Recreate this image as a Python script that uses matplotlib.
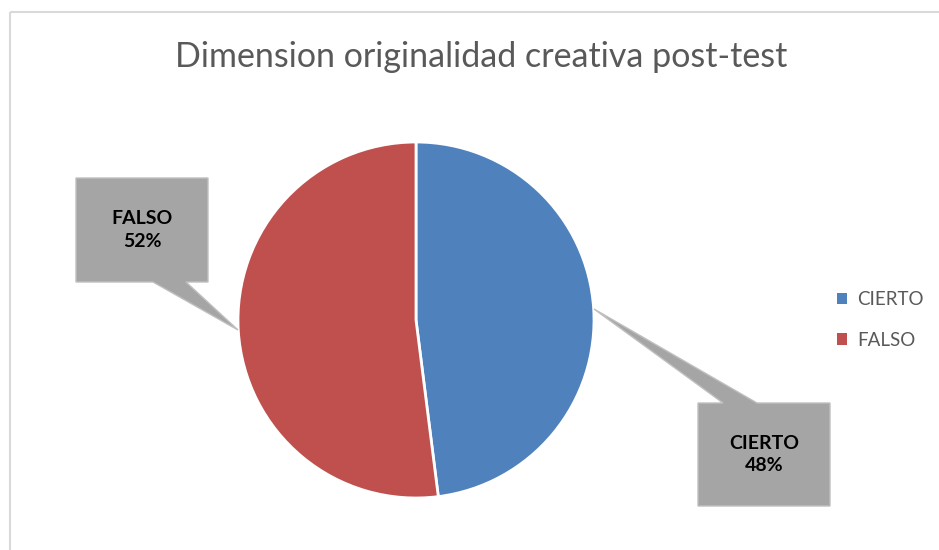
import numpy as np
import matplotlib
matplotlib.use("Agg")
import matplotlib.pyplot as plt
from matplotlib.patches import Polygon, Rectangle, Patch

# data
labels = ["CIERTO", "FALSO"]
values = [48, 52]
colors = ["#4F81BD", "#C0504D"]
title = "Dimension originalidad creativa post-test"

W, H = 939, 550
plt.rcParams['font.family'] = ['Lato', 'DejaVu Sans']

fig = plt.figure(figsize=(W / 100, H / 100), dpi=100)
ax = fig.add_axes([0, 0, 1, 1])

# chart border
ax.add_patch(Rectangle((9.5, 11.5), W + 20, H + 20, fill=False,
                       edgecolor='#D9D9D9', linewidth=1.5))

cx, cy, r = 416, 320, 178
# y axis is inverted (pixel coords), so counterclockwise from -90 reads clockwise from top
wedges, _ = ax.pie(values, colors=colors, startangle=-90, counterclock=True,
                   center=(cx, cy), radius=r, frame=True,
                   wedgeprops=dict(edgecolor='white', linewidth=2))
ax.set_xlim(0, W)
ax.set_ylim(H, 0)
ax.set_aspect('equal')
ax.axis('off')

fig.text(481 / W, 1 - 57 / H, title, ha='center', va='center', fontsize=24.5,
         color='#595959')

# callouts: box (x0, y0, x1, y1), pointer base on box edge, tip at slice edge
def callout(box, base, tip, text):
    x0, y0, x1, y1 = box
    (bx0, by0), (bx1, by1) = base
    if by0 == y1:  # base on bottom edge
        pts = [(x0, y0), (x1, y0), (x1, y1), (bx1, y1), tip, (bx0, y1), (x0, y1)]
    else:  # base on top edge
        pts = [(x0, y0), (bx0, y0), tip, (bx1, y0), (x1, y0), (x1, y1), (x0, y1)]
    ax.add_patch(Polygon(pts, closed=True, facecolor='#A5A5A5',
                         edgecolor='#BFBFBF', linewidth=1, zorder=3))
    ax.text((x0 + x1) / 2, (y0 + y1) / 2, text, ha='center', va='center',
            fontsize=14, fontweight='bold', color='black', zorder=4,
            linespacing=1.4)

callout((698, 403, 830, 506), ((723, 403), (757, 403)), (594, 309),
        f"{labels[0]}\n{values[0]}%")
callout((76, 178, 208, 282), ((153, 282), (186, 282)), (238, 330),
        f"{labels[1]}\n{values[1]}%")

handles = [Patch(facecolor=c, label=l) for c, l in zip(colors, labels)]
fig.legend(handles=handles, loc='center left', bbox_to_anchor=(820 / W, 1 - 320 / H),
           frameon=False, fontsize=13.5, labelcolor='#595959', handlelength=0.55,
           handleheight=0.55, handletextpad=0.55, labelspacing=1.25)

fig.savefig("out.png", dpi=100)
